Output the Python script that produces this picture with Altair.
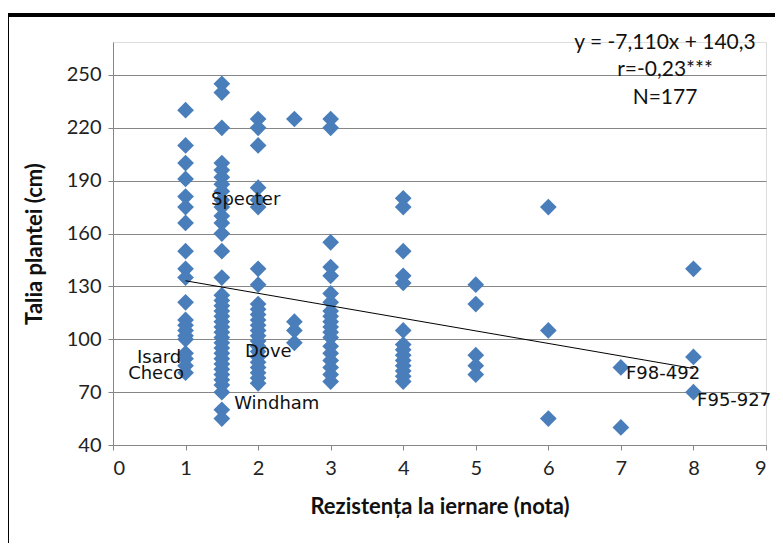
import altair as alt
import pandas as pd

# ---- data ----
col_1 = [230, 210, 200, 191, 181, 175, 166, 150, 140, 135, 121, 111, 108, 105, 102, 100, 92, 89, 85, 81]
col_1_5 = [245, 240, 220, 200, 196, 192, 188, 184, 179, 175, 170, 166, 160, 150, 135, 125, 122, 119, 116,
           113, 110, 107, 104, 101, 98, 95, 92, 89, 86, 83, 80, 77, 74, 70, 60, 55]
col_2 = [225, 220, 210, 186, 179, 175, 140, 131, 120, 117, 114, 111, 108, 105, 102, 99, 96, 93, 90, 87,
         84, 81, 78, 75]
col_2_5 = [225, 110, 105, 98]
col_3 = [225, 220, 155, 141, 136, 126, 121, 116, 113, 110, 107, 104, 101, 96, 92, 88, 84, 80, 76]
col_4 = [180, 175, 150, 136, 132, 105, 97, 94, 91, 88, 85, 82, 79, 76]
col_5 = [131, 120, 91, 85, 80]
col_6 = [175, 105, 55]
col_7 = [84, 50]
col_8 = [140, 90, 70]

columns = {1: col_1, 1.5: col_1_5, 2: col_2, 2.5: col_2_5, 3: col_3,
           4: col_4, 5: col_5, 6: col_6, 7: col_7, 8: col_8}

slope, intercept = -7.110, 140.3
trend_x = [1, 8]

label_text = ["Isard", "Checo", "Specter", "Dove", "Windham", "F98-492", "F95-927"]
label_x = [0.94, 0.98, 1.35, 1.82, 1.67, 7.07, 8.05]
label_y = [89.4, 80.3, 179, 92.8, 63.3, 80.3, 65]
label_align = ["right", "right", "left", "left", "left", "left", "left"]

eq_lines = ["y = -7,110x + 140,3", "r=-0,23***", "N=177"]

y_ticks = [40, 70, 100, 130, 160, 190, 220, 250]
x_ticks = [0, 1, 2, 3, 4, 5, 6, 7, 8, 9]

rows = [{"x": k, "y": v} for k, vals in columns.items() for v in vals]
df = pd.DataFrame(rows)
trend = pd.DataFrame({"x": trend_x, "y": [slope * t + intercept for t in trend_x]})
labels = pd.DataFrame({"x": label_x, "y": label_y, "t": label_text, "a": label_align})

FONT = "Lato"
LFONT = "DejaVu Sans"
xs = alt.Scale(domain=[0, 9], nice=False, zero=False)
ys = alt.Scale(domain=[40, 268.7], nice=False, zero=False)

points = alt.Chart(df).mark_point(
    shape="diamond", filled=True, size=280, color="#4A7EBB", opacity=1
).encode(
    x=alt.X("x:Q", scale=xs,
            axis=alt.Axis(values=x_ticks, format="d", title="Rezistența la iernare (nota)", grid=False,
                          domainColor="#868686", tickColor="#868686", tickSize=5,
                          labelFontSize=20, labelFont=FONT, labelColor="#222", labelPadding=8,
                          titleFont=FONT, titleFontSize=22, titleFontWeight="bold",
                          titleColor="#111", titlePadding=18)),
    y=alt.Y("y:Q", scale=ys,
            axis=alt.Axis(values=y_ticks, title="Talia plantei (cm)", grid=True,
                          gridColor="#868686", gridWidth=1,
                          domainColor="#868686", tickColor="#868686", tickSize=5,
                          labelFontSize=20, labelFont=FONT, labelColor="#222", labelPadding=7,
                          titleFont=FONT, titleFontSize=22, titleFontWeight="bold",
                          titleColor="#111", titlePadding=20)),
)

line = alt.Chart(trend).mark_line(color="#000", strokeWidth=1).encode(
    x=alt.X("x:Q", scale=xs), y=alt.Y("y:Q", scale=ys)
)

lab_left = alt.Chart(labels[labels.a == "left"]).mark_text(
    align="left", baseline="middle", font=LFONT, fontSize=18, color="#111"
).encode(x=alt.X("x:Q", scale=xs), y=alt.Y("y:Q", scale=ys), text="t:N")

lab_right = alt.Chart(labels[labels.a == "right"]).mark_text(
    align="right", baseline="middle", font=LFONT, fontSize=18, color="#111"
).encode(x=alt.X("x:Q", scale=xs), y=alt.Y("y:Q", scale=ys), text="t:N")

eq_y = [1, 28, 56]
eq_layers = [
    alt.Chart(df.head(1)).mark_text(
        align="center", baseline="middle", font=FONT, fontSize=21, color="#111", text=t
    ).encode(x=alt.value(552), y=alt.value(yy))
    for t, yy in zip(eq_lines, eq_y)
]

frame_v = alt.Chart(df.head(1)).mark_rule(color="#000", strokeWidth=4).encode(
    x=alt.value(-106), y=alt.value(-27), y2=alt.value(520)
)
frame_h = alt.Chart(df.head(1)).mark_rule(color="#000", strokeWidth=4).encode(
    x=alt.value(-108), x2=alt.value(680), y=alt.value(-27)
)

chart = alt.layer(points, line, lab_left, lab_right, *eq_layers, frame_v, frame_h).properties(
    width=653, height=403,
    autosize=alt.AutoSizeParams(type="none"),
    padding={"left": 105, "top": 34, "right": 9, "bottom": 98},
).configure_view(stroke=None).configure(background="white")

chart.save("out.html", embed_options={"renderer": "svg", "actions": False})
